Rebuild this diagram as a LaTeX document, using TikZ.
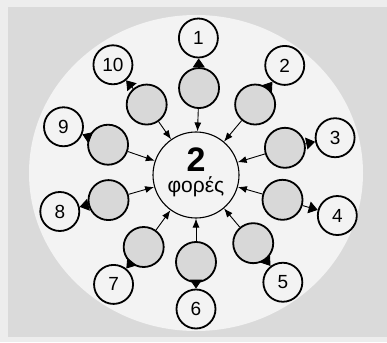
\documentclass[tikz,border=0pt]{standalone}
\usepackage{fontspec}
\setmainfont{Liberation Sans}
\usetikzlibrary{arrows.meta}
\definecolor{sheet}{HTML}{EDEDED}
\definecolor{card}{HTML}{DADADA}
\definecolor{disc}{HTML}{F3F3F3}
\definecolor{blobfill}{HTML}{D8D8D8}

\begin{document}
\begin{tikzpicture}[
  x=1pt, y=1pt,
  hub/.style={circle, draw, line width=1.1pt, fill=disc, minimum size=86pt, inner sep=0pt},
  blob/.style={circle, draw, line width=1.8pt, fill=blobfill, minimum size=40pt, inner sep=0pt},
  num/.style={circle, draw, line width=1.8pt, fill=disc, minimum size=39pt, inner sep=0pt,
              font=\fontsize{19}{19}\selectfont},
  feed/.style={-{Latex[length=9pt,width=7pt]}, line width=0.9pt},
  pass/.style={-{Triangle[length=9pt,width=12pt]}, line width=0.9pt}
]
% background card and light disc
\useasboundingbox (-196,-167) rectangle (191,175);
\fill[sheet] (-196,-167) rectangle (191,175);
\fill[card] (-188,-162) rectangle (191,168);
\fill[disc] (0,2) ellipse [x radius=167, y radius=158];

\node[hub] (ctr) at (0,0) {};
\node[font=\fontsize{34}{34}\selectfont\bfseries] (ctrtimes) at (0,15) {2};
\node[font=\fontsize{21}{21}\selectfont] (ctrword) at (0,-12) {φορές};

% grey circles round the hub
\node[blob] (g1) at (88:87) {};
\node[blob] (g2) at (50:92) {};
\node[blob] (g3) at (17:93) {};
\node[blob] (g4) at (-16:90) {};
\node[blob] (g5) at (-50:89) {};
\node[blob] (g6) at (-90:87) {};
\node[blob] (g7) at (-126:89) {};
\node[blob] (g8) at (-164:91) {};
\node[blob] (g9) at (161:93) {};
\node[blob] (g10) at (125:86) {};

% numbered circles
\node[num] (n1) at (89:137) {1};
\node[num] (n2) at (51:141) {2};
\node[num] (n3) at (15:144) {3};
\node[num] (n4) at (-16:147) {4};
\node[num] (n5) at (-51:138) {5};
\node[num] (n6) at (-90:134) {6};
\node[num] (n7) at (-127:137) {7};
\node[num] (n8) at (-165:141) {8};
\node[num] (n9) at (160:141) {9};
\node[num] (n10) at (127:138) {10};

\foreach \k in {1,...,10} {
  \draw[feed] (g\k) -- (ctr);
  \draw[pass] (g\k) -- (n\k);
}
\end{tikzpicture}
\end{document}
